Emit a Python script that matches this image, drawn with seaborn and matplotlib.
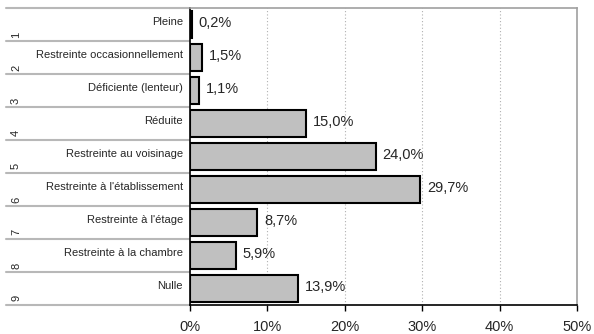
import matplotlib
matplotlib.use("Agg")
import matplotlib.pyplot as plt
import matplotlib.transforms as mtransforms
import seaborn as sns
import pandas as pd

# data
ranks = ["1", "2", "3", "4", "5", "6", "7", "8", "9"]
categories = [
    "Pleine",
    "Restreinte occasionnellement",
    "Déficiente (lenteur)",
    "Réduite",
    "Restreinte au voisinage",
    "Restreinte à l'établissement",
    "Restreinte à l'étage",
    "Restreinte à la chambre",
    "Nulle",
]
values = [0.2, 1.5, 1.1, 15.0, 24.0, 29.7, 8.7, 5.9, 13.9]
xticks = [0, 10, 20, 30, 40, 50]

df = pd.DataFrame({"cat": categories, "val": values})

sns.set_theme(style="white")
plt.rcParams["font.family"] = ["Liberation Sans", "DejaVu Sans"]

W, H = 594, 334
fig = plt.figure(figsize=(W / 100, H / 100), dpi=100)
ax = fig.add_axes([190 / W, 1 - 305 / H, (577 - 190) / W, (305 - 8) / H])

sns.barplot(data=df, x="val", y="cat", order=categories, color="#c0c0c0",
            edgecolor="black", linewidth=1.5, width=0.82, saturation=1, ax=ax)

ax.set_xlim(0, 50)
ax.set_ylim(len(categories) - 0.5, -0.5)
ax.set_xticks(xticks)
ax.set_xticklabels([f"{t}%" for t in xticks], fontsize=10.5)
ax.set_yticks([])
ax.set_xlabel("")
ax.set_ylabel("")
ax.tick_params(axis="x", direction="out", length=4, width=1, color="black", pad=7, bottom=True)

for t in xticks[1:-1]:
    ax.axvline(t, color="#b0b0b0", linestyle=(0, (1, 2)), linewidth=0.8, zorder=0)

for side in ["top", "right"]:
    ax.spines[side].set_color("#a0a0a0")
    ax.spines[side].set_linewidth(1.2)
for side in ["left", "bottom"]:
    ax.spines[side].set_color("black")
    ax.spines[side].set_linewidth(1.2)

# value labels
for i, v in enumerate(values):
    ax.text(v + 0.9, i - 0.05, f"{v:.1f}%".replace(".", ","), va="center", ha="left", fontsize=10.5)

# left label table
trans = mtransforms.blended_transform_factory(fig.transFigure, ax.transData)
for b in range(len(categories) + 1):
    ax.plot([6 / W, 189 / W], [b - 0.5, b - 0.5], transform=trans, color="#b8b8b8",
            linewidth=1.5, clip_on=False)
for i, (r, c) in enumerate(zip(ranks, categories)):
    ax.text(183 / W, i - 0.08, c, transform=trans, ha="right", va="center", fontsize=8)
    ax.text(16 / W, i + 0.3, r, transform=trans, ha="center", va="center", rotation=90, fontsize=8)

fig.savefig("out.png", dpi=100)
